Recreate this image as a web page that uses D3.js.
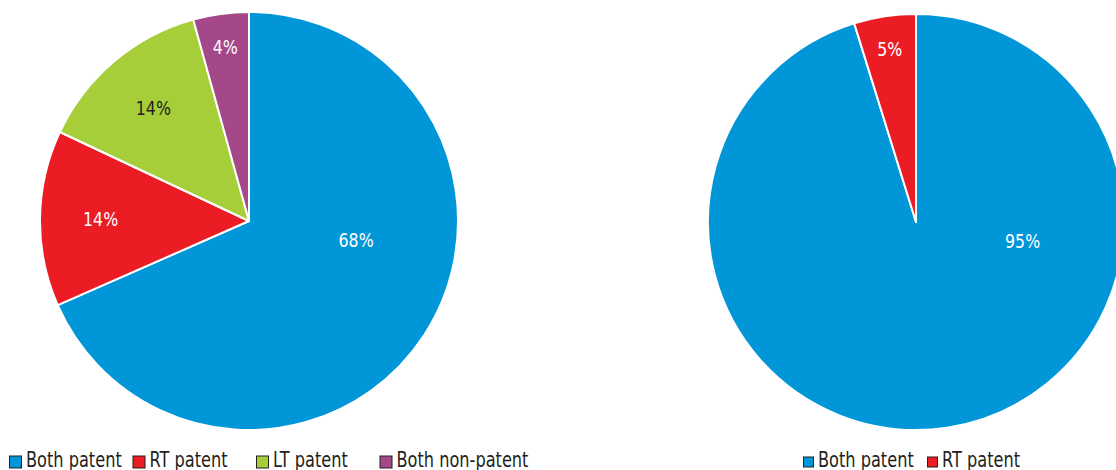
<!DOCTYPE html>
<html>
<head>
<meta charset="utf-8">
<script src="https://cdn.jsdelivr.net/npm/d3@7"></script>
<style>
  body { margin: 0; background: #fff; }
  text { font-family: "DejaVu Sans", sans-serif; }
</style>
</head>
<body>
<svg id="chart" width="1116" height="470"></svg>
<script>
// data (shares)
var leftCategories = ['Both patent', 'RT patent', 'LT patent', 'Both non-patent'];
var leftValues = [68.4, 13.6, 13.7, 4.3];
var rightCategories = ['Both patent', 'RT patent'];
var rightValues = [95.2, 4.8];

var colors = {
  'Both patent': '#0096d8',
  'RT patent': '#ec1c24',
  'LT patent': '#a6ce39',
  'Both non-patent': '#a4488a'
};
var labelInk = {
  'LT patent': '#231f20'
};

var svg = d3.select('#chart');
var squeeze = 0.79; // no condensed face installed, so squash the text

var pie = d3.pie().sort(null).value(function(d) { return d.value; });

var draw_pie = function(cats, vals, cx, cy, r) {
  var rows = cats.map(function(c, i) { return {cat: c, value: vals[i]}; });
  var total = d3.sum(vals);
  var arc = d3.arc().innerRadius(0).outerRadius(r);
  var g = svg.append('g').attr('transform', 'translate(' + cx + ',' + cy + ')');

  var slices = pie(rows);
  g.selectAll('path.slice')
    .data(slices)
    .enter().append('path')
      .attr('class', 'slice')
      .attr('d', arc)
      .attr('fill', function(d) { return colors[d.data.cat]; })
      .attr('stroke', '#fff')
      .attr('stroke-width', 2)
      .attr('stroke-linejoin', 'round');

  // label placement roughly like the original (excel "best fit")
  g.selectAll('text.lbl')
    .data(slices)
    .enter().append('text')
      .attr('class', 'lbl')
      .attr('text-anchor', 'middle')
      .attr('dy', '0.36em')
      .attr('font-size', 20)
      .attr('fill', function(d) { return labelInk[d.data.cat] || '#fff'; })
      .attr('transform', function(d) {
        var share = d.data.value / total;
        var a, rr;
        if (share > 0.5) { a = Math.PI / 2 + 0.17; rr = r * 0.52; }
        else if (share > 0.08) { a = (d.startAngle + d.endAngle) / 2; rr = r * 0.71; }
        else { a = (d.startAngle + d.endAngle) / 2; rr = r * 0.84; }
        return 'translate(' + (Math.sin(a) * rr) + ',' + (-Math.cos(a) * rr) + ') scale(' + squeeze + ',1)';
      })
      .text(function(d) { return Math.round(d.data.value) + '%'; });
};

var draw_legend = function(cats, x0, step, box) {
  var lg = svg.append('g').attr('transform', 'translate(' + x0 + ',' + 462 + ')');
  var item = lg.selectAll('g.item')
    .data(cats)
    .enter().append('g')
      .attr('class', 'item')
      .attr('transform', function(d, i) { return 'translate(' + (i * step) + ',0)'; });
  item.append('rect')
    .attr('x', 0.5).attr('y', -box / 2)
    .attr('width', box).attr('height', box)
    .attr('fill', function(d) { return colors[d]; })
    .attr('stroke', '#231f20')
    .attr('stroke-width', 1);
  item.append('text')
    .attr('transform', 'translate(' + (box + 5) + ',4.5) scale(0.77,1)')
    .attr('font-size', 21)
    .attr('fill', '#231f20')
    .text(function(d) { return d; });
};

draw_pie(leftCategories, leftValues, 249, 221, 209);
draw_pie(rightCategories, rightValues, 916, 222, 208);
draw_legend(leftCategories, 9, 123.5, 12);
draw_legend(rightCategories, 803, 124, 10);
</script>
</body>
</html>
